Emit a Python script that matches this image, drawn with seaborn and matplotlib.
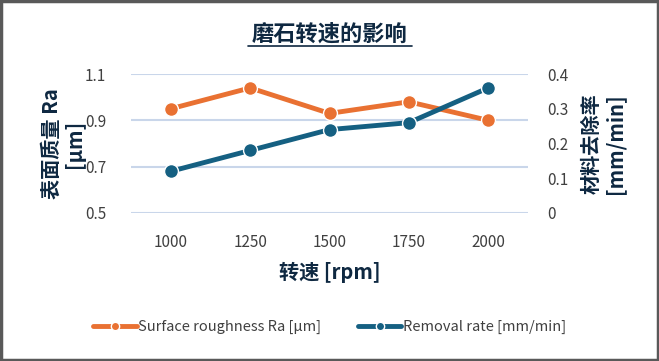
import matplotlib.pyplot as plt
import matplotlib.lines as mlines
import matplotlib.patches as mpatches
import pandas as pd
import seaborn as sns

speeds = [1000, 1250, 1500, 1750, 2000]
roughness = [0.95, 1.04, 0.93, 0.98, 0.90]
removal = [0.12, 0.18, 0.24, 0.26, 0.36]

left_ticks = [0.5, 0.7, 0.9, 1.1]
right_ticks = [0, 0.1, 0.2, 0.3, 0.4]
right_tick_labels = ["0", "0.1", "0.2", "0.3", "0.4"]

ORANGE = "#E97132"
BLUE = "#156082"
NAVY = "#0E2841"
TICK = "#404040"
GRID = "#C9D6EA"

sns.set_theme(style="white")
plt.rcParams["font.family"] = ["Noto Sans CJK SC", "DejaVu Sans"]

df = pd.DataFrame({"speed": speeds, "roughness": roughness, "removal": removal})

fig = plt.figure(figsize=(6.59, 3.61), dpi=100)
ax = fig.add_axes([0.199, 0.41, 0.602, 0.385])
ax2 = ax.twinx()

line_kw = dict(linewidth=3.5, marker="o", markersize=10, markeredgecolor="white", markeredgewidth=1)
sns.lineplot(data=df, x="speed", y="roughness", ax=ax, color=ORANGE, **line_kw)
sns.lineplot(data=df, x="speed", y="removal", ax=ax2, color=BLUE, **line_kw)

ax.set_xlim(875, 2125)
ax.set_ylim(0.5, 1.1)
ax2.set_ylim(0, 0.4)
ax.set_xticks(speeds)
ax.set_yticks(left_ticks)
ax.set_yticklabels([str(t) for t in left_ticks])
ax2.set_yticks(right_ticks)
ax2.set_yticklabels(right_tick_labels)

ax.yaxis.grid(True, color=GRID, linewidth=1.5)
ax.xaxis.grid(False)
ax2.grid(False)
for a in (ax, ax2):
    for s in a.spines.values():
        s.set_visible(False)
    a.tick_params(length=0, labelsize=11, labelcolor=TICK)
ax.tick_params(axis="y", pad=18)
ax.tick_params(axis="x", pad=15)
ax2.tick_params(axis="y", pad=14)

label_kw = dict(fontsize=14.5, fontweight="bold", color=NAVY, multialignment="center")
ax.set_xlabel("转速 [rpm]", labelpad=8, **label_kw)
ax.set_ylabel("表面质量 Ra\n[μm]", labelpad=0, linespacing=1.15, **label_kw)
ax2.set_ylabel("材料去除率\n[mm/min]", labelpad=9, linespacing=1.15, **label_kw)

fig.text(0.5, 0.905, "磨石转速的影响", ha="center", va="center",
         fontsize=16, fontweight="bold", color=NAVY)
fig.add_artist(mlines.Line2D([0.377, 0.625], [0.872, 0.872], color=NAVY, linewidth=1.2))

handles = [
    mlines.Line2D([], [], color=ORANGE, label="Surface roughness Ra [μm]", **line_kw),
    mlines.Line2D([], [], color=BLUE, label="Removal rate [mm/min]", **line_kw),
]
for h in handles:
    h.set_markersize(6)
fig.legend(handles=handles, loc="center", bbox_to_anchor=(0.5, 0.093), ncol=2,
           frameon=False, fontsize=10.5, labelcolor=TICK, handlelength=3.0,
           handletextpad=0.1, columnspacing=2.5)

fig.add_artist(mpatches.Rectangle((0.002, 0.003), 0.996, 0.994, transform=fig.transFigure,
                                  fill=False, edgecolor="#595959", linewidth=2.5))

fig.savefig("out.png", dpi=100)
